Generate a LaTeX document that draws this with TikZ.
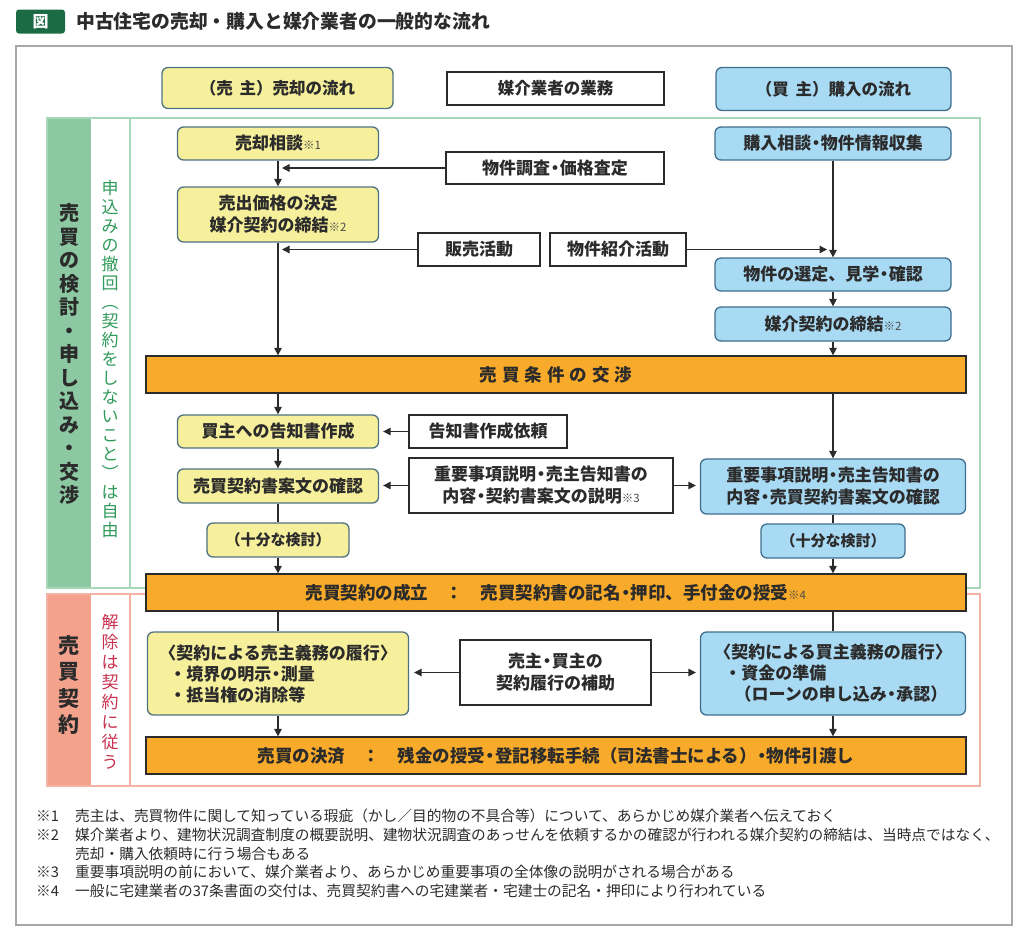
\documentclass[tikz,border=0pt]{standalone}
\usepackage{fontspec}
\setmainfont{Noto Sans CJK JP}
\usetikzlibrary{arrows.meta}
\definecolor{yel}{HTML}{F6EF9C}
\definecolor{yelb}{HTML}{4F7280}
\definecolor{blu}{HTML}{A9DAF3}
\definecolor{blub}{HTML}{3F6E8C}
\definecolor{org}{HTML}{F8AA2A}
\definecolor{grnband}{HTML}{8CC8A2}
\definecolor{grnline}{HTML}{A6D8B8}
\definecolor{grntext}{HTML}{2F9A5A}
\definecolor{redband}{HTML}{F4A28C}
\definecolor{redline}{HTML}{F3B2A4}
\definecolor{redtext}{HTML}{C8324F}
\definecolor{titlegreen}{HTML}{1B6B45}
\definecolor{ink}{HTML}{2B2B2B}
\definecolor{notegray}{HTML}{4A4A4A}
\definecolor{framegray}{HTML}{A8A8A8}
\newcommand\kome[1]{{\mdseries\fontsize{11.5}{11.5}\selectfont\color{notegray}※#1}}
\newcommand\nd{{\kern-0.22em・\kern-0.22em}}
\tikzset{
  base/.style={inner sep=0pt, text=ink, font=\bfseries\fontsize{17}{22}\selectfont, align=center},
  ybox/.style={base, draw=yelb, fill=yel, line width=1.3pt, rounded corners=6pt},
  bbox/.style={base, draw=blub, fill=blu, line width=1.3pt, rounded corners=6pt},
  wbox/.style={base, draw=ink, fill=white, line width=1.3pt},
  obar/.style={base, draw=ink, fill=org, line width=1.3pt, minimum width=820pt, minimum height=37pt, font=\bfseries\fontsize{17.5}{22}\selectfont},
  arr/.style={draw=ink, line width=1.3pt, -{Triangle[length=7.5pt,width=7.5pt]}},
  ln/.style={draw=ink, line width=1.3pt},
  fnote/.style={inner sep=0pt, anchor=west, text=ink, font=\fontsize{14.7}{16}\selectfont},
}
\begin{document}
\begin{tikzpicture}[x=1pt,y=-1pt]
\useasboundingbox (0,0) rectangle (1024,935);
% title
\node[fill=titlegreen, rounded corners=3pt, minimum width=49pt, minimum height=24pt, inner sep=0pt, text=white, font=\bfseries\fontsize{16}{16}\selectfont] (badge) at (40.5,21.5) {図};
\node[inner sep=0pt, anchor=west, text=ink, font=\bfseries\fontsize{18.8}{20}\selectfont] (title) at (76,21.5) {中古住宅の売却・購入と媒介業者の一般的な流れ};
% outer frame
\draw[framegray, line width=1.5pt] (16,46) rectangle (1012,925);
% green section
\fill[grnband] (47,118) rectangle (91,588);
\draw[grnline, line width=1.5pt] (47,118) rectangle (980,588);
\draw[grnline, line width=1.5pt] (130,118) -- (130,588);
% red section
\fill[redband] (47,594) rectangle (91,786);
\draw[redline, line width=1.5pt] (47,594) rectangle (980,786);
\draw[redline, line width=1.5pt] (130,594) -- (130,786);
% vertical labels
\node[inner sep=0pt, align=center, text=ink, font=\bfseries\fontsize{20}{23.5}\selectfont] (vl1) at (69,354) {売\\買\\の\\検\\討\\・\\申\\し\\込\\み\\・\\交\\渉};
\node[inner sep=0pt, align=center, text=grntext, font=\fontsize{17}{19}\selectfont] (vl2) at (110,359) {申\\込\\み\\の\\撤\\回\\︵\\契\\約\\を\\し\\な\\い\\こ\\と\\︶\\は\\自\\由};
\node[inner sep=0pt, align=center, text=ink, font=\bfseries\fontsize{21}{26.5}\selectfont] (vl3) at (69,685) {売\\買\\契\\約};
\node[inner sep=0pt, align=center, text=redtext, font=\fontsize{17}{20}\selectfont] (vl4) at (110,692) {解\\除\\は\\契\\約\\に\\従\\う};
% headers
\node[ybox, minimum width=231pt, minimum height=41pt, font=\bfseries\fontsize{16.5}{20}\selectfont] (hS) at (277.5,88) {（売\hspace{0.4em}主）売却の流れ};
\node[wbox, minimum width=217pt, minimum height=33pt, font=\bfseries\fontsize{16.5}{20}\selectfont] (hB) at (555.5,88.5) {媒介業者の業務};
\node[bbox, minimum width=235pt, minimum height=43pt, font=\bfseries\fontsize{16.5}{20}\selectfont] (hU) at (833.5,89) {（買\hspace{0.4em}主）購入の流れ};
% seller column
\node[ybox, minimum width=201pt, minimum height=33pt] (s1) at (278,143.5) {売却相談\kome{1}};
\node[ybox, minimum width=201pt, minimum height=55pt] (s2) at (278,214.5) {売出価格の決定\\媒介契約の締結\kome{2}};
\node[ybox, minimum width=201pt, minimum height=33pt] (s3) at (278,431.5) {買主への告知書作成};
\node[ybox, minimum width=201pt, minimum height=34pt] (s4) at (278,486) {売買契約書案文の確認};
\node[ybox, minimum width=142pt, minimum height=34pt, font=\bfseries\fontsize{15}{18}\selectfont] (s5) at (278,540) {（十分な検討）};
\node[ybox, minimum width=261pt, minimum height=83pt, align=left, font=\bfseries\fontsize{17}{21}\selectfont] (s6) at (278,673.5) {〈契約による売主義務の履行〉\\\hspace{0.6em}・境界の明示\nd 測量\\\hspace{0.6em}・抵当権の消除等};
% buyer column
\node[bbox, minimum width=236pt, minimum height=33pt] (b1) at (833,143.5) {購入相談\nd 物件情報収集};
\node[bbox, minimum width=236pt, minimum height=33pt] (b2) at (833,274.5) {物件の選定、見学\nd 確認};
\node[bbox, minimum width=236pt, minimum height=34pt] (b3) at (833,324) {媒介契約の締結\kome{2}};
\node[bbox, minimum width=265pt, minimum height=55pt] (b4) at (833,486.5) {重要事項説明\nd 売主告知書の\\内容\nd 売買契約書案文の確認};
\node[bbox, minimum width=144pt, minimum height=34pt, font=\bfseries\fontsize{15}{18}\selectfont] (b5) at (833,541) {（十分な検討）};
\node[bbox, minimum width=265pt, minimum height=83pt, align=left, font=\bfseries\fontsize{17}{21}\selectfont] (b6) at (833,673.5) {〈契約による買主義務の履行〉\\\hspace{0.6em}・資金の準備\\\hspace{1.2em}（ローンの申し込み\nd 承認）};
% broker column
\node[wbox, minimum width=218pt, minimum height=32pt] (m1) at (555,168) {物件調査\nd 価格査定};
\node[wbox, minimum width=122pt, minimum height=33pt] (m2) at (479,249.5) {販売活動};
\node[wbox, minimum width=136pt, minimum height=33pt] (m3) at (618,249.5) {物件紹介活動};
\node[wbox, minimum width=158pt, minimum height=33pt] (m4) at (488,431.5) {告知書作成依頼};
\node[wbox, minimum width=264pt, minimum height=55pt] (m5) at (541,485.5) {重要事項説明\nd 売主告知書の\\内容\nd 契約書案文の説明\kome{3}};
\node[wbox, minimum width=191pt, minimum height=65pt] (m6) at (555.5,672.5) {売主\nd 買主の\\契約履行の補助};
% bars
\node[obar] (o1) at (556,374.5) {売\hspace{5pt}買\hspace{5pt}条\hspace{5pt}件\hspace{5pt}の\hspace{5pt}交\hspace{5pt}渉};
\node[obar] (o2) at (556,592.5) {売買契約の成立\hspace{1em}：\hspace{1em}売買契約書の記名\nd 押印、手付金の授受\kome{4}};
\node[obar] (o3) at (556,755.5) {売買の決済\hspace{1em}：\hspace{1em}残金の授受\nd 登記移転手続（司法書士による）\nd 物件引渡し};
% connectors seller
\draw[arr] (s1.south) -- (s2.north);
\draw[arr, shorten >=4pt] (m1.west) -- (m1.west -| s1.south);
\draw[arr] (s2.south) -- (s2.south |- o1.north);
\draw[arr, shorten >=4pt] (m2.west) -- (m2.west -| s2.south);
\draw[arr] (s3.north |- o1.south) -- (s3.north);
\draw[arr, shorten >=4pt] (m4.west) -- (s3.east);
\draw[arr] (s3.south) -- (s4.north);
\draw[arr, shorten >=4pt] (m5.west) -- (m5.west -| s4.east);
\draw[ln] (s4.south) -- (s5.north);
\draw[arr] (s5.south) -- (s5.south |- o2.north);
\draw[ln] (s6.north |- o2.south) -- (s6.north);
\draw[arr] (s6.south) -- (s6.south |- o3.north);
\draw[arr, shorten >=5pt] (m6.west) -- (m6.west -| s6.east);
% connectors buyer
\draw[arr] (b1.south) -- (b2.north);
\draw[arr, shorten >=6pt] (m3.east) -- (m3.east -| b1.south);
\draw[arr] (b2.south) -- (b3.north);
\draw[arr] (b3.south) -- (b3.south |- o1.north);
\draw[arr] (b4.north |- o1.south) -- (b4.north);
\draw[arr, shorten >=4pt] (m5.east) -- (m5.east -| b4.west);
\draw[ln] (b4.south) -- (b5.north);
\draw[arr] (b5.south) -- (b5.south |- o2.north);
\draw[ln] (b6.north |- o2.south) -- (b6.north);
\draw[arr] (b6.south) -- (b6.south |- o3.north);
\draw[arr, shorten >=4pt] (m6.east) -- (m6.east -| b6.west);
% footnotes
\node[fnote] (f1m) at (36,816) {※1};
\node[fnote] (f1) at (75,816) {売主は、売買物件に関して知っている瑕疵（かし／目的物の不具合等）について、あらかじめ媒介業者へ伝えておく};
\node[fnote] (f2m) at (36,835) {※2};
\node[fnote] (f2) at (75,835) {媒介業者より、建物状況調査制度の概要説明、建物状況調査のあっせんを依頼するかの確認が行われる媒介契約の締結は、当時点ではなく、};
\node[fnote] (f2b) at (75,853.5) {売却・購入依頼時に行う場合もある};
\node[fnote] (f3m) at (36,872) {※3};
\node[fnote] (f3) at (75,872) {重要事項説明の前において、媒介業者より、あらかじめ重要事項の全体像の説明がされる場合がある};
\node[fnote] (f4m) at (36,891) {※4};
\node[fnote] (f4) at (75,891) {一般に宅建業者の37条書面の交付は、売買契約書への宅建業者・宅建士の記名・押印により行われている};
\end{tikzpicture}
\end{document}
